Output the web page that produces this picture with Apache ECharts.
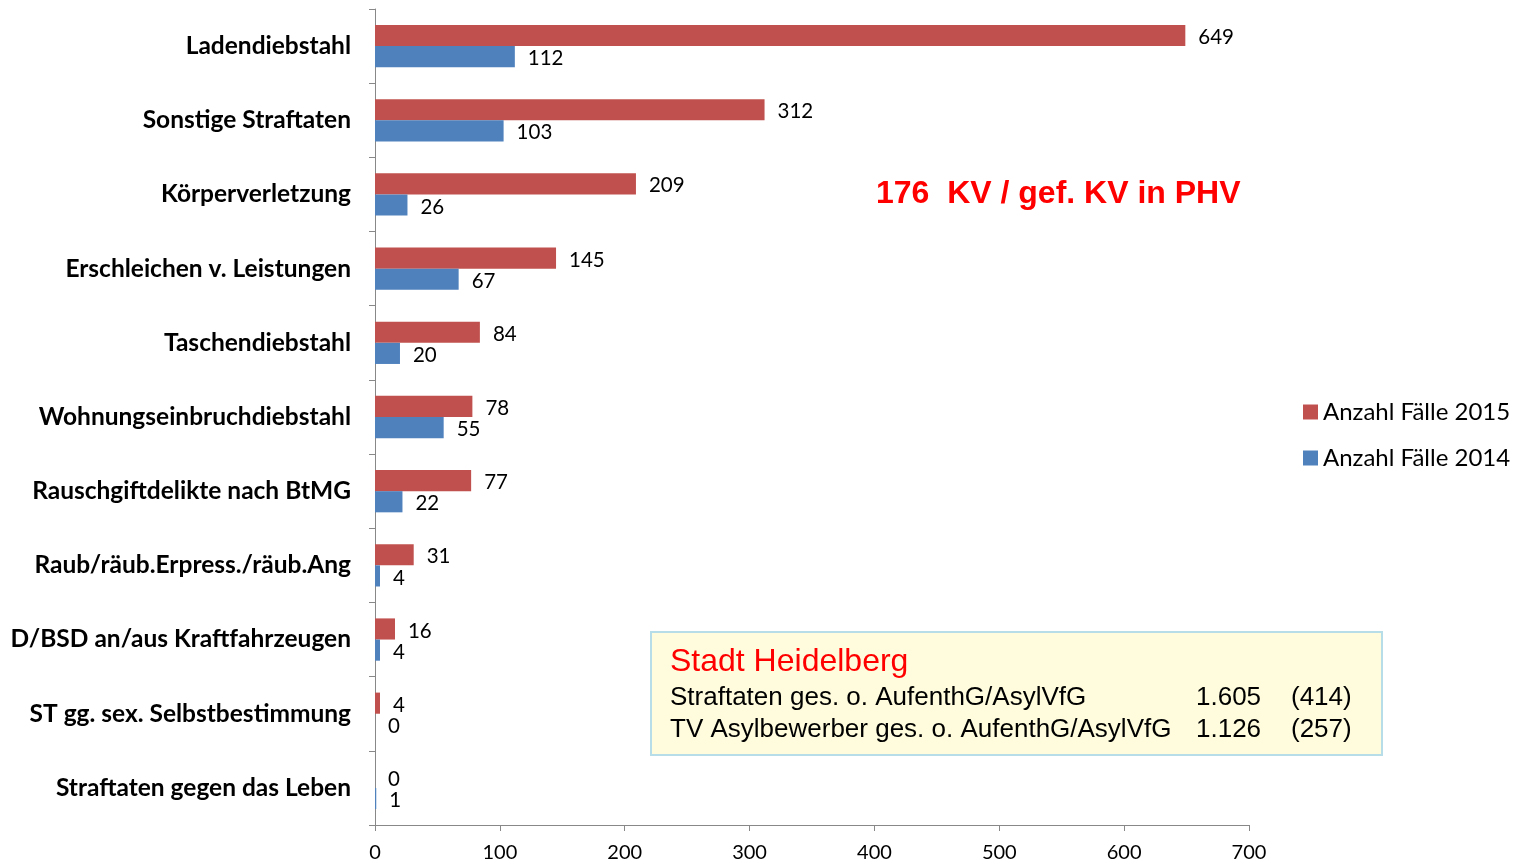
<!DOCTYPE html>
<html><head><meta charset="utf-8">
<script src="https://cdn.jsdelivr.net/npm/echarts@6/dist/echarts.min.js"></script>
<style>html,body{margin:0;padding:0;background:#fff}#c{width:1528px;height:864px}</style>
</head><body><div id="c"></div>
<script>
const categories = ['Ladendiebstahl','Sonstige Straftaten','Körperverletzung','Erschleichen v. Leistungen','Taschendiebstahl','Wohnungseinbruchdiebstahl','Rauschgiftdelikte nach BtMG','Raub/räub.Erpress./räub.Ang','D/BSD an/aus Kraftfahrzeugen','ST gg. sex. Selbstbestimmung','Straftaten gegen das Leben'];
const values2015 = [649,312,209,145,84,78,77,31,16,4,0];
const values2014 = [112,103,26,67,20,55,22,4,4,0,1];
const seriesNames = ['Anzahl Fälle 2015','Anzahl Fälle 2014'];
const xTicks = {min:0,max:700,interval:100};
const annotation = '176  KV / gef. KV in PHV';
const boxTitle = 'Stadt Heidelberg';
const boxRows = [['Straftaten ges. o. AufenthG/AsylVfG','1.605','(414)'],['TV Asylbewerber ges. o. AufenthG/AsylVfG','1.126','(257)']];

const chart = echarts.init(document.getElementById('c'));
const lblFont = 'Lato, "Open Sans", sans-serif';
const arial = '"Liberation Sans", Arial, sans-serif';
const graphics = [
  {type:'text',left:876,top:178,style:{text:annotation,fill:'#FF0000',font:'bold 32px ' + arial}},
  {type:'rect',left:650,top:631,shape:{width:731,height:123},style:{fill:'#FEFCDC',stroke:'#B7DDE8',lineWidth:2}},
  {type:'text',left:670,top:646,style:{text:boxTitle,fill:'#FF0000',font:'32px ' + arial}}
];
boxRows.forEach((r,i)=>{
  const y = 685 + i*32;
  graphics.push({type:'text',left:670,top:y,style:{text:r[0],fill:'#000',font:'26px ' + arial}});
  graphics.push({type:'text',left:1196,top:y,style:{text:r[1],fill:'#000',font:'26px ' + arial}});
  graphics.push({type:'text',left:1291,top:y,style:{text:r[2],fill:'#000',font:'26px ' + arial}});
});
chart.setOption({
  animation:false,
  grid:{left:375,top:9,right:279,bottom:39,containLabel:false},
  legend:{orient:'vertical',left:1298,top:395,itemWidth:15,itemHeight:15,itemGap:22,icon:'rect',
    textStyle:{fontFamily:lblFont,fontSize:24,color:'#000'},data:seriesNames},
  xAxis:{type:'value',min:xTicks.min,max:xTicks.max,interval:xTicks.interval,
    axisLine:{show:true,lineStyle:{color:'#888'}},axisTick:{show:true,length:6,lineStyle:{color:'#888'}},
    splitLine:{show:false},axisLabel:{fontFamily:lblFont,fontSize:20,color:'#000',margin:18}},
  yAxis:{type:'category',data:categories,inverse:true,
    axisLine:{lineStyle:{color:'#888'}},axisTick:{show:true,length:6,inside:false,lineStyle:{color:'#888'}},
    axisLabel:{fontFamily:lblFont,fontWeight:'bold',fontSize:24.5,color:'#000',margin:24}},
  series:[
    {name:seriesNames[0],type:'bar',data:values2015,itemStyle:{color:'#C0504D'},barGap:'0%',barCategoryGap:'43%',
      label:{show:true,position:'right',distance:13,fontFamily:lblFont,fontSize:20.5,color:'#000',offset:[0,2]}},
    {name:seriesNames[1],type:'bar',data:values2014,itemStyle:{color:'#4F81BD'},barGap:'0%',barCategoryGap:'43%',
      label:{show:true,position:'right',distance:13,fontFamily:lblFont,fontSize:20.5,color:'#000',offset:[0,2]}}
  ],
  graphic:graphics
});
</script></body></html>
